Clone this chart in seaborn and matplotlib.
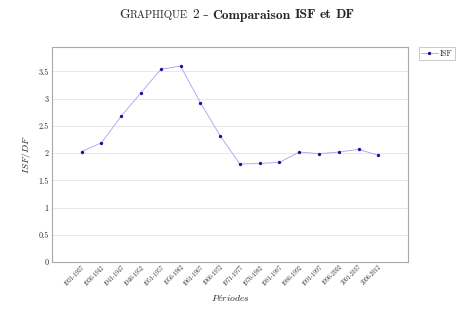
import matplotlib
matplotlib.use("Agg")
import matplotlib.pyplot as plt
import pandas as pd
import seaborn as sns

# Periods (5-year windows) and ISF/DF ratio
periodes = ["1931-1937", "1936-1942", "1941-1947", "1946-1952", "1951-1957",
            "1956-1962", "1961-1967", "1966-1972", "1971-1977", "1976-1982",
            "1981-1987", "1986-1992", "1991-1997", "1996-2002", "2001-2007",
            "2006-2012"]
isf_df = [2.03, 2.19, 2.68, 3.11, 3.54, 3.60, 2.93, 2.32, 1.80, 1.81,
          1.83, 2.02, 1.99, 2.02, 2.07, 1.96]
y_ticks = [0, 0.5, 1, 1.5, 2, 2.5, 3, 3.5]
y_tick_labels = ["0", "0.5", "1", "1.5", "2", "2.5", "3", "3.5"]
serie = "ISF"

sns.set_theme(style="white")
plt.rcParams["font.family"] = ["cmr10", "DejaVu Serif"]
plt.rcParams["mathtext.fontset"] = "cm"
plt.rcParams["axes.unicode_minus"] = False

W, H = 474, 325
fig = plt.figure(figsize=(W / 100, H / 100), dpi=100)
ax = fig.add_axes([52 / W, 1 - 262 / H, (408 - 52) / W, (262 - 47) / H])

df = pd.DataFrame({"pos": range(len(periodes)), "valeur": isf_df})
line_col = "#a3a3f0"
mark_col = "#10109a"
sns.lineplot(data=df, x="pos", y="valeur", ax=ax, color=line_col, lw=0.6,
             marker="o", markersize=2.2, markerfacecolor=mark_col,
             markeredgecolor=mark_col, markeredgewidth=0.2, label=serie)

ax.set_xlim(-1.5, len(periodes) + 0.5)
ax.set_ylim(0, 3.95)
ax.set_xticks(range(-1, len(periodes) + 1))
ax.set_xticklabels([""] + periodes + [""], rotation=45, ha="right", va="top",
                   rotation_mode="anchor", fontsize=4.2)
ax.set_yticks(y_ticks)
ax.set_yticklabels(y_tick_labels, fontsize=5.8)
ax.tick_params(axis="both", direction="in", length=2, width=0.5,
               color="#b0b0b0", pad=2.5)
ax.tick_params(axis="x", pad=1.5)
ax.grid(axis="y", color="#e4e4e4", lw=0.6)
ax.set_axisbelow(True)
for s in ax.spines.values():
    s.set_color("#a8a8a8")
    s.set_linewidth(0.8)

ax.set_xlabel(r"$P\acute{e}riodes$", fontsize=7, labelpad=5)
ax.set_ylabel(r"$ISF/DF$", fontsize=7, labelpad=4)

leg = ax.legend(loc="upper left", bbox_to_anchor=(419 / W, 1 - 47 / H),
                bbox_transform=fig.transFigure, fontsize=5.8, frameon=True,
                fancybox=False, handlelength=2.0, handletextpad=0.25,
                borderpad=0.3, borderaxespad=0)
leg.get_frame().set_edgecolor("#b0b0b0")
leg.get_frame().set_linewidth(0.6)

# Title: small-caps label, en dash, then bold caption, laid out piece by piece
size = 9.8
pieces = [
    ("G", dict(family="cmr10", size=size), 0),
    ("RAPHIQUE", dict(family="cmr10", size=size * 0.78), 4),
    ("2", dict(family="cmr10", size=size), 4),
    ("\u2013", dict(family="DejaVu Serif", size=size * 0.8), 4),
    ("Comparaison", dict(family="cmb10", size=size), 4),
    ("ISF", dict(family="cmb10", size=size), 4),
    ("et", dict(family="cmb10", size=size), 4),
    ("DF", dict(family="cmb10", size=size), 0),
]
baseline = H - 18.5
renderer = fig.canvas.get_renderer()
texts, widths = [], []
for txt, kw, gap in pieces:
    t = fig.text(0, baseline / H, txt, va="baseline", ha="left",
                 fontfamily=kw["family"], fontsize=kw["size"])
    texts.append((t, gap))
    widths.append(t.get_window_extent(renderer).width)
total = sum(widths) + sum(g for _, g in texts)
x = W / 2 - total / 2
for (t, gap), w in zip(texts, widths):
    t.set_x(x / W)
    x += w + gap

fig.savefig("out.png", dpi=100)
